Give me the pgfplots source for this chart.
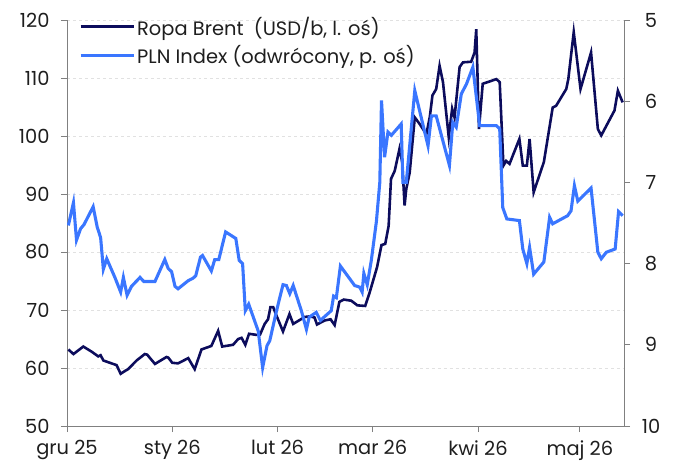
\documentclass[border=0pt]{standalone}
\usepackage{pgfplots}
\pgfplotsset{compat=1.18}
\usepackage{fontspec}
\setmainfont{Poppins}
\definecolor{brent}{RGB}{12,12,92}
\definecolor{pln}{RGB}{58,118,255}
\definecolor{axgray}{RGB}{128,128,128}
\definecolor{gridgray}{RGB}{225,225,225}
\definecolor{txt}{RGB}{30,30,30}

\begin{document}
\begin{tikzpicture}
\pgfplotsset{
  every axis/.append style={
    width=557bp, height=406bp, scale only axis,
    xmin=0, xmax=164,
    font=\fontsize{19.5}{22}\selectfont,
    tick align=outside,
    major tick length=6bp,
    tick style={axgray, line width=0.8pt},
    axis line style={axgray, line width=0.8pt},
    tick label style={txt},
    /pgf/number format/assume math mode=true,
  },
}
% days counted from 1 Dec 2025
\begin{axis}[
  name=ax,
  axis x line*=bottom, axis y line*=left,
  ymin=50, ymax=120, ytick={50,60,...,120},
  xtick={0,31,62,90,121,151},
  xticklabels={gru 25, sty 26, lut 26, mar 26, kwi 26, maj 26},
  xticklabel style={yshift=-5bp},
  yticklabel style={xshift=-8bp},
  ymajorgrids, grid style={gridgray, dashed, line width=0.6pt},
  legend style={draw=none, fill=none, at={(0.016,1.018)}, anchor=north west,
    font=\fontsize{19.5}{22}\selectfont, text=txt, row sep=5bp},
  legend cell align=left,
  legend image code/.code={\draw[#1] (0bp,0bp) -- (53bp,0bp);},
]
\addplot[brent, line width=2.6pt] coordinates {
(0.4,63.2) (1.9,62.4) (4.8,63.7) (7.3,62.8) (9.2,62.0) (9.9,62.2) (10.7,61.3)
(12.6,60.9) (14.6,60.5) (15.8,59.0) (17.1,59.5) (18.0,59.8) (20.5,61.3) (22.9,62.4)
(23.6,62.3) (25.9,60.7) (29.3,61.9) (29.8,61.8) (31.0,60.9) (32.7,60.8) (35.7,61.7)
(37.6,59.8) (39.6,63.2) (42.5,63.8) (44.5,66.4) (45.7,63.7) (48.9,64.0) (50.4,65.0)
(51.4,65.2) (52.5,64.0) (53.6,65.9) (55.9,65.7) (56.8,65.7) (58.2,67.6) (59.2,68.4)
(59.9,70.5) (60.7,70.5) (61.7,69.0) (63.6,66.3) (65.5,69.3) (66.6,67.6) (70.0,68.8)
(71.5,68.9) (72.9,68.7) (73.6,67.5) (75.9,68.2) (77.6,68.4) (78.8,67.4) (80.2,71.4)
(81.5,71.8) (83.7,71.6) (85.5,70.8) (87.8,70.7) (89.1,73.0) (91.3,77.4) (92.6,81.2)
(93.7,81.4) (94.7,84.5) (95.4,92.6) (96.5,94.0) (97.9,97.8) (98.7,95.5) (99.4,88.0)
(99.9,90.9) (100.9,93.7) (102.4,103.2) (103.8,102.1) (105.8,100.3) (106.8,103.2)
(107.6,107.0) (108.7,108.1) (109.7,112.1) (110.7,109.3) (112.4,99.8) (113.4,104.7)
(114.1,103.2) (115.6,111.9) (116.6,112.7) (119.0,112.8) (120.0,114.4) (120.5,118.4)
(121.3,101.2) (122.4,109.0) (126.4,109.8) (127.4,109.3) (128.5,94.9) (129.3,95.7)
(130.3,95.2) (133.2,99.5) (134.2,94.9) (135.4,94.9) (136.2,99.5) (137.4,90.3)
(140.4,95.5) (143.0,104.9) (144.0,105.2) (147.0,108.1) (147.6,109.8) (149.2,117.9)
(151.2,108.1) (154.3,114.4) (156.3,101.2) (157.3,100.1) (161.2,104.4) (162.2,107.8)
(163.6,105.8)
};
\addlegendentry{Ropa Brent\ \ (USD/b, l. oś)}
\addlegendimage{pln, line width=3.1pt}
\addlegendentry{PLN Index (odwrócony, p. oś)}
\end{axis}
\begin{axis}[
  axis x line=none, axis y line*=right,
  ymin=5, ymax=10, y dir=reverse, ytick={5,6,...,10},
  yticklabel style={anchor=center, xshift=21bp},
]
\addplot[pln, line width=3.1pt] coordinates {
(0.4,7.53) (1.9,7.25) (2.8,7.71) (4.0,7.57) (5.0,7.52) (7.7,7.30) (8.9,7.55)
(9.9,7.68) (10.7,8.07) (11.7,7.94) (14.1,8.17) (15.8,8.35) (16.6,8.17) (17.7,8.39)
(19.0,8.28) (21.5,8.17) (22.6,8.22) (25.9,8.22) (28.8,7.95) (29.8,8.06) (30.8,8.10)
(31.8,8.28) (32.7,8.31) (35.7,8.21) (37.1,8.18) (37.9,8.15) (39.3,7.92) (39.9,7.90)
(42.5,8.09) (43.5,7.95) (44.7,7.95) (46.7,7.61) (49.7,7.69) (50.7,7.96) (51.7,8.00)
(52.5,8.58) (53.5,8.50) (56.3,8.83) (57.6,9.28) (58.9,9.01) (59.7,8.95) (61.7,8.58)
(63.6,8.26) (64.6,8.27) (65.6,8.37) (66.6,8.27) (69.0,8.58) (70.5,8.81) (71.3,8.66)
(73.4,8.60) (74.6,8.70) (77.8,8.58) (78.5,8.40) (79.3,8.42) (80.5,8.03) (84.7,8.27)
(86.2,8.29) (86.9,8.35) (87.4,8.12) (88.4,8.26) (89.6,7.96) (91.1,7.48) (92.1,7.00)
(92.6,5.99) (93.5,6.69) (94.5,6.38) (95.5,6.42) (98.4,6.28) (98.9,7.00) (99.9,7.00)
(102.4,5.87) (106.3,6.55) (107.3,6.18) (108.7,6.18) (112.6,6.79) (113.6,6.26)
(114.6,6.32) (116.1,5.91) (117.6,5.79) (119.5,5.58) (121.5,6.30) (126.4,6.30)
(127.4,6.34) (128.3,7.31) (129.5,7.45) (133.2,7.47) (134.2,7.82) (135.4,8.00)
(136.2,7.80) (137.4,8.13) (140.4,7.98) (142.1,7.43) (143.0,7.51) (147.4,7.41)
(148.4,7.35) (149.4,7.04) (150.4,7.23) (154.3,7.07) (156.3,7.86) (157.3,7.94)
(158.8,7.86) (161.4,7.82) (162.4,7.36) (163.6,7.41)
};
\end{axis}
\pgfresetboundingbox
\path[use as bounding box] ([shift={(-67bp,-39bp)}]ax.south west) rectangle ([shift={(60bp,20bp)}]ax.north east);
\end{tikzpicture}
\end{document}
